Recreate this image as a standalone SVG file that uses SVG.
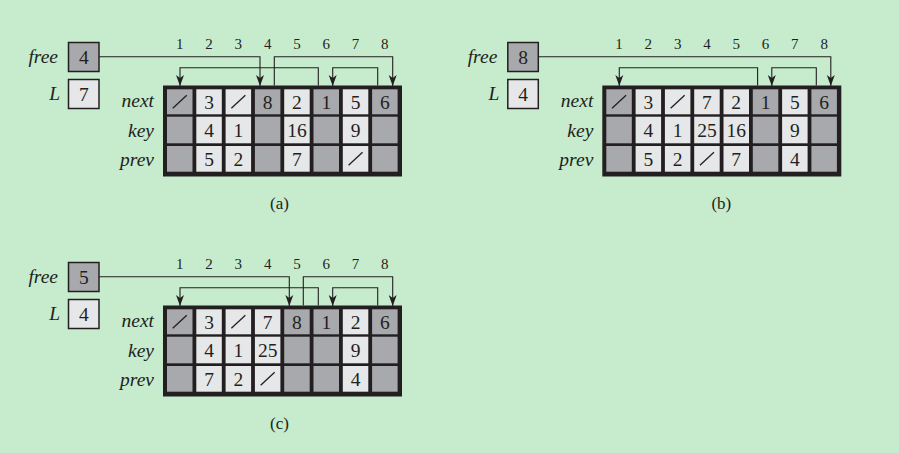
<svg xmlns="http://www.w3.org/2000/svg" width="899" height="453" viewBox="0 0 899 453">
<style>
.bg{fill:#c7ebcd}
.tb{fill:#231f20}
.d{fill:#a7a9ac}
.l{fill:#e6e7e8}
.bx{stroke:#231f20;stroke-width:1.5}
.n{font-family:"Liberation Serif","Times New Roman",serif;font-size:19.5px;fill:#231f20;text-anchor:middle}
.c{font-family:"Liberation Serif","Times New Roman",serif;font-size:15px;fill:#231f20;text-anchor:middle}
.i{font-family:"Liberation Serif","Times New Roman",serif;font-size:19.5px;font-style:italic;fill:#231f20;text-anchor:end}
.cap{font-family:"Liberation Serif","Times New Roman",serif;font-size:17px;fill:#231f20;text-anchor:middle}
.s{stroke:#231f20;stroke-width:1.3;fill:none}
.w{stroke:#231f20;stroke-width:1.1;fill:none;marker-end:url(#ah)}
</style>
<defs>
<marker id="ah" viewBox="-12 -5 13 10" refX="0" refY="0" markerWidth="13" markerHeight="10" markerUnits="userSpaceOnUse" orient="auto">
<path d="M0,0 L-11,-4 L-8,0 L-11,4 Z" fill="#231f20"/>
</marker>
</defs>
<rect class="bg" x="0" y="0" width="899" height="453"/>

<!-- Panel (a) -->
<g id="panel-a">
<g id="a-cols">
<text class="c" x="179.75" y="48.5">1</text><text class="c" x="209.05" y="48.5">2</text><text class="c" x="238.35" y="48.5">3</text><text class="c" x="267.65" y="48.5">4</text><text class="c" x="296.95" y="48.5">5</text><text class="c" x="326.25" y="48.5">6</text><text class="c" x="355.55" y="48.5">7</text><text class="c" x="384.85" y="48.5">8</text>
</g>
<g id="a-free">
<text class="i" x="58" y="63">free</text>
<rect class="d bx" x="68.5" y="42.5" width="30.5" height="29"/>
<text class="n" x="83.75" y="63.5">4</text>
</g>
<g id="a-L">
<text class="i" x="60" y="100">L</text>
<rect class="l bx" x="68.5" y="79.5" width="30.5" height="29"/>
<text class="n" x="83.75" y="100.5">7</text>
</g>
<g id="a-table">
<text class="i" x="154" y="107">next</text><text class="i" x="154" y="136.5">key</text><text class="i" x="154" y="166">prev</text>
<rect class="tb" x="163" y="85.5" width="239" height="91"/>
<rect class="d" x="167" y="89.3" width="25.5" height="25"/><rect class="d" x="167" y="116.7" width="25.5" height="26.6"/><rect class="d" x="167" y="146" width="25.5" height="25.7"/>
<rect class="l" x="196.3" y="89.3" width="25.5" height="25"/><rect class="l" x="196.3" y="116.7" width="25.5" height="26.6"/><rect class="l" x="196.3" y="146" width="25.5" height="25.7"/>
<rect class="l" x="225.6" y="89.3" width="25.5" height="25"/><rect class="l" x="225.6" y="116.7" width="25.5" height="26.6"/><rect class="l" x="225.6" y="146" width="25.5" height="25.7"/>
<rect class="d" x="254.9" y="89.3" width="25.5" height="25"/><rect class="d" x="254.9" y="116.7" width="25.5" height="26.6"/><rect class="d" x="254.9" y="146" width="25.5" height="25.7"/>
<rect class="l" x="284.2" y="89.3" width="25.5" height="25"/><rect class="l" x="284.2" y="116.7" width="25.5" height="26.6"/><rect class="l" x="284.2" y="146" width="25.5" height="25.7"/>
<rect class="d" x="313.5" y="89.3" width="25.5" height="25"/><rect class="d" x="313.5" y="116.7" width="25.5" height="26.6"/><rect class="d" x="313.5" y="146" width="25.5" height="25.7"/>
<rect class="l" x="342.8" y="89.3" width="25.5" height="25"/><rect class="l" x="342.8" y="116.7" width="25.5" height="26.6"/><rect class="l" x="342.8" y="146" width="25.5" height="25.7"/>
<rect class="d" x="372.1" y="89.3" width="25.5" height="25"/><rect class="d" x="372.1" y="116.7" width="25.5" height="26.6"/><rect class="d" x="372.1" y="146" width="25.5" height="25.7"/>
<line class="s" x1="172.75" y1="108.3" x2="186.75" y2="95.3"/>
<text class="n" x="209.05" y="108.5">3</text>
<line class="s" x1="231.35" y1="108.3" x2="245.35" y2="95.3"/>
<text class="n" x="267.65" y="108.5">8</text>
<text class="n" x="296.95" y="108.5">2</text>
<text class="n" x="326.25" y="108.5">1</text>
<text class="n" x="355.55" y="108.5">5</text>
<text class="n" x="384.85" y="108.5">6</text>
<text class="n" x="209.05" y="137">4</text>
<text class="n" x="238.35" y="137">1</text>
<text class="n" x="296.95" y="137">16</text>
<text class="n" x="355.55" y="137">9</text>
<text class="n" x="209.05" y="165.5">5</text>
<text class="n" x="238.35" y="165.5">2</text>
<text class="n" x="296.95" y="165.5">7</text>
<line class="s" x1="348.55" y1="165.3" x2="362.55" y2="152.3"/>
</g>
<g id="a-connectors">
<path class="w" d="M99,56.7 H260 V86"/>
<path class="w" d="M274.3,85.5 V56.7 H392.7 V86"/>
<path class="w" d="M377.7,85.5 V67.7 H332.7 V86"/>
<path class="w" d="M318.3,85.5 V67.7 H180 V86"/>
</g>
<text class="cap" x="279.5" y="209">(a)</text>
</g>

<!-- Panel (b) -->
<g id="panel-b" transform="translate(439.3,0)">
<g id="b-cols">
<text class="c" x="179.75" y="48.5">1</text><text class="c" x="209.05" y="48.5">2</text><text class="c" x="238.35" y="48.5">3</text><text class="c" x="267.65" y="48.5">4</text><text class="c" x="296.95" y="48.5">5</text><text class="c" x="326.25" y="48.5">6</text><text class="c" x="355.55" y="48.5">7</text><text class="c" x="384.85" y="48.5">8</text>
</g>
<g id="b-free">
<text class="i" x="58" y="63">free</text>
<rect class="d bx" x="68.5" y="42.5" width="30.5" height="29"/>
<text class="n" x="83.75" y="63.5">8</text>
</g>
<g id="b-L">
<text class="i" x="60" y="100">L</text>
<rect class="l bx" x="68.5" y="79.5" width="30.5" height="29"/>
<text class="n" x="83.75" y="100.5">4</text>
</g>
<g id="b-table">
<text class="i" x="154" y="107">next</text><text class="i" x="154" y="136.5">key</text><text class="i" x="154" y="166">prev</text>
<rect class="tb" x="163" y="85.5" width="239" height="91"/>
<rect class="d" x="167" y="89.3" width="25.5" height="25"/><rect class="d" x="167" y="116.7" width="25.5" height="26.6"/><rect class="d" x="167" y="146" width="25.5" height="25.7"/>
<rect class="l" x="196.3" y="89.3" width="25.5" height="25"/><rect class="l" x="196.3" y="116.7" width="25.5" height="26.6"/><rect class="l" x="196.3" y="146" width="25.5" height="25.7"/>
<rect class="l" x="225.6" y="89.3" width="25.5" height="25"/><rect class="l" x="225.6" y="116.7" width="25.5" height="26.6"/><rect class="l" x="225.6" y="146" width="25.5" height="25.7"/>
<rect class="l" x="254.9" y="89.3" width="25.5" height="25"/><rect class="l" x="254.9" y="116.7" width="25.5" height="26.6"/><rect class="l" x="254.9" y="146" width="25.5" height="25.7"/>
<rect class="l" x="284.2" y="89.3" width="25.5" height="25"/><rect class="l" x="284.2" y="116.7" width="25.5" height="26.6"/><rect class="l" x="284.2" y="146" width="25.5" height="25.7"/>
<rect class="d" x="313.5" y="89.3" width="25.5" height="25"/><rect class="d" x="313.5" y="116.7" width="25.5" height="26.6"/><rect class="d" x="313.5" y="146" width="25.5" height="25.7"/>
<rect class="l" x="342.8" y="89.3" width="25.5" height="25"/><rect class="l" x="342.8" y="116.7" width="25.5" height="26.6"/><rect class="l" x="342.8" y="146" width="25.5" height="25.7"/>
<rect class="d" x="372.1" y="89.3" width="25.5" height="25"/><rect class="d" x="372.1" y="116.7" width="25.5" height="26.6"/><rect class="d" x="372.1" y="146" width="25.5" height="25.7"/>
<line class="s" x1="172.75" y1="108.3" x2="186.75" y2="95.3"/>
<text class="n" x="209.05" y="108.5">3</text>
<line class="s" x1="231.35" y1="108.3" x2="245.35" y2="95.3"/>
<text class="n" x="267.65" y="108.5">7</text>
<text class="n" x="296.95" y="108.5">2</text>
<text class="n" x="326.25" y="108.5">1</text>
<text class="n" x="355.55" y="108.5">5</text>
<text class="n" x="384.85" y="108.5">6</text>
<text class="n" x="209.05" y="137">4</text>
<text class="n" x="238.35" y="137">1</text>
<text class="n" x="267.65" y="137">25</text>
<text class="n" x="296.95" y="137">16</text>
<text class="n" x="355.55" y="137">9</text>
<text class="n" x="209.05" y="165.5">5</text>
<text class="n" x="238.35" y="165.5">2</text>
<line class="s" x1="260.65" y1="165.3" x2="274.65" y2="152.3"/>
<text class="n" x="296.95" y="165.5">7</text>
<text class="n" x="355.55" y="165.5">4</text>
</g>
<g id="b-connectors">
<path class="w" d="M99,56.7 H391.5 V86"/>
<path class="w" d="M377,85.5 V67.7 H332.5 V86"/>
<path class="w" d="M318.3,85.5 V67.7 H180 V86"/>
</g>
<text class="cap" x="282" y="209">(b)</text>
</g>

<!-- Panel (c) -->
<g id="panel-c" transform="translate(0,220)">
<g id="c-cols">
<text class="c" x="179.75" y="48.5">1</text><text class="c" x="209.05" y="48.5">2</text><text class="c" x="238.35" y="48.5">3</text><text class="c" x="267.65" y="48.5">4</text><text class="c" x="296.95" y="48.5">5</text><text class="c" x="326.25" y="48.5">6</text><text class="c" x="355.55" y="48.5">7</text><text class="c" x="384.85" y="48.5">8</text>
</g>
<g id="c-free">
<text class="i" x="58" y="63">free</text>
<rect class="d bx" x="68.5" y="42.5" width="30.5" height="29"/>
<text class="n" x="83.75" y="63.5">5</text>
</g>
<g id="c-L">
<text class="i" x="60" y="100">L</text>
<rect class="l bx" x="68.5" y="79.5" width="30.5" height="29"/>
<text class="n" x="83.75" y="100.5">4</text>
</g>
<g id="c-table">
<text class="i" x="154" y="107">next</text><text class="i" x="154" y="136.5">key</text><text class="i" x="154" y="166">prev</text>
<rect class="tb" x="163" y="85.5" width="239" height="91"/>
<rect class="d" x="167" y="89.3" width="25.5" height="25"/><rect class="d" x="167" y="116.7" width="25.5" height="26.6"/><rect class="d" x="167" y="146" width="25.5" height="25.7"/>
<rect class="l" x="196.3" y="89.3" width="25.5" height="25"/><rect class="l" x="196.3" y="116.7" width="25.5" height="26.6"/><rect class="l" x="196.3" y="146" width="25.5" height="25.7"/>
<rect class="l" x="225.6" y="89.3" width="25.5" height="25"/><rect class="l" x="225.6" y="116.7" width="25.5" height="26.6"/><rect class="l" x="225.6" y="146" width="25.5" height="25.7"/>
<rect class="l" x="254.9" y="89.3" width="25.5" height="25"/><rect class="l" x="254.9" y="116.7" width="25.5" height="26.6"/><rect class="l" x="254.9" y="146" width="25.5" height="25.7"/>
<rect class="d" x="284.2" y="89.3" width="25.5" height="25"/><rect class="d" x="284.2" y="116.7" width="25.5" height="26.6"/><rect class="d" x="284.2" y="146" width="25.5" height="25.7"/>
<rect class="d" x="313.5" y="89.3" width="25.5" height="25"/><rect class="d" x="313.5" y="116.7" width="25.5" height="26.6"/><rect class="d" x="313.5" y="146" width="25.5" height="25.7"/>
<rect class="l" x="342.8" y="89.3" width="25.5" height="25"/><rect class="l" x="342.8" y="116.7" width="25.5" height="26.6"/><rect class="l" x="342.8" y="146" width="25.5" height="25.7"/>
<rect class="d" x="372.1" y="89.3" width="25.5" height="25"/><rect class="d" x="372.1" y="116.7" width="25.5" height="26.6"/><rect class="d" x="372.1" y="146" width="25.5" height="25.7"/>
<line class="s" x1="172.75" y1="108.3" x2="186.75" y2="95.3"/>
<text class="n" x="209.05" y="108.5">3</text>
<line class="s" x1="231.35" y1="108.3" x2="245.35" y2="95.3"/>
<text class="n" x="267.65" y="108.5">7</text>
<text class="n" x="296.95" y="108.5">8</text>
<text class="n" x="326.25" y="108.5">1</text>
<text class="n" x="355.55" y="108.5">2</text>
<text class="n" x="384.85" y="108.5">6</text>
<text class="n" x="209.05" y="137">4</text>
<text class="n" x="238.35" y="137">1</text>
<text class="n" x="267.65" y="137">25</text>
<text class="n" x="355.55" y="137">9</text>
<text class="n" x="209.05" y="165.5">7</text>
<text class="n" x="238.35" y="165.5">2</text>
<line class="s" x1="260.65" y1="165.3" x2="274.65" y2="152.3"/>
<text class="n" x="355.55" y="165.5">4</text>
</g>
<g id="c-connectors">
<path class="w" d="M99,56.7 H289.3 V86"/>
<path class="w" d="M303.3,85.5 V56.7 H392.7 V86"/>
<path class="w" d="M377.7,85.5 V67.7 H332.7 V86"/>
<path class="w" d="M318.3,85.5 V67.7 H180 V86"/>
</g>
<text class="cap" x="279.5" y="209">(c)</text>
</g>
</svg>
